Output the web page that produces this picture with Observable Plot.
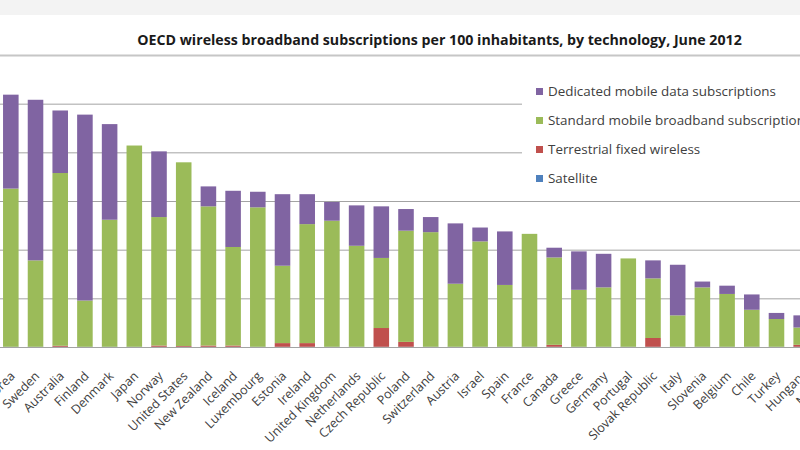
<!DOCTYPE html>
<html>
<head>
<meta charset="utf-8">
<script src="https://cdn.jsdelivr.net/npm/d3@7"></script>
<script src="https://cdn.jsdelivr.net/npm/@observablehq/plot@0.6"></script>
<style>
  html, body { margin: 0; padding: 0; }
  body { width: 800px; height: 450px; overflow: hidden; position: relative; background: #ffffff; font-family: "Open Sans", sans-serif; }
  #band { position: absolute; left: 0; top: 0; width: 800px; height: 15px; background: #f3f3f3; }
  #chart { position: absolute; left: -40px; top: 0; width: 900px; height: 450px; }
  #chart svg { max-width: none !important; }
  #title { position: absolute; left: 0; top: 30px; width: 879px; text-align: center; font-weight: bold; font-size: 14.2px; color: #1a1a1a; white-space: nowrap; }
  #legend { position: absolute; left: 522px; top: 68px; width: 300px; height: 124px; background: #ffffff; }
  .item { position: absolute; left: 14px; height: 18px; font-size: 13.4px; color: #404040; white-space: nowrap; line-height: 18px; }
  .sw { position: absolute; left: 0; top: 6px; width: 7px; height: 7px; }
  .lbl { position: absolute; left: 12px; top: 0; }
</style>
</head>
<body>
<div id="band"></div>
<div id="chart"></div>
<div id="title"></div>
<div id="legend"></div>
<script>
const titleText = "OECD wireless broadband subscriptions per 100 inhabitants, by technology, June 2012";

const countries = ["Korea","Sweden","Australia","Finland","Denmark","Japan","Norway","United States","New Zealand","Iceland","Luxembourg","Estonia","Ireland","United Kingdom","Netherlands","Czech Republic","Poland","Switzerland","Austria","Israel","Spain","France","Canada","Greece","Germany","Portugal","Slovak Republic","Italy","Slovenia","Belgium","Chile","Turkey","Hungary","Mexico"];

const dedicated   = [38.6, 66.0, 25.7, 76.4, 39.3, 0.0, 27.0, 0.0, 8.2, 23.1, 6.4, 29.4, 12.3, 7.7, 16.6, 21.2, 8.9, 6.2, 24.8, 5.7, 22.0, 0.0, 4.0, 15.8, 13.8, 0.0, 7.4, 20.8, 2.4, 3.4, 6.3, 2.5, 5.0, 1.5];
const standard    = [65.0, 35.5, 71.0, 19.0, 52.2, 82.7, 52.8, 75.5, 57.2, 40.5, 57.3, 31.8, 48.9, 51.8, 41.5, 28.8, 45.7, 47.1, 25.9, 43.3, 25.4, 46.4, 35.9, 23.4, 24.4, 36.3, 24.5, 12.9, 24.4, 21.7, 15.2, 11.4, 7.1, 8.5];
const terrestrial = [0.0, 0.0, 0.4, 0.0, 0.0, 0.0, 0.5, 0.3, 0.5, 0.5, 0.0, 1.5, 1.5, 0.0, 0.0, 7.7, 2.0, 0.0, 0.0, 0.0, 0.0, 0.0, 0.8, 0.0, 0.0, 0.0, 3.6, 0.0, 0.0, 0.0, 0.0, 0.0, 0.8, 0.3];
const satellite   = [0.1, 0.1, 0.1, 0.1, 0.1, 0.1, 0.1, 0.1, 0.1, 0.1, 0.1, 0.1, 0.1, 0.1, 0.1, 0.1, 0.1, 0.1, 0.1, 0.1, 0.1, 0.1, 0.1, 0.1, 0.1, 0.1, 0.1, 0.1, 0.1, 0.1, 0.1, 0.1, 0.1, 0.1];

const series = ["Dedicated mobile data subscriptions", "Standard mobile broadband subscriptions", "Terrestrial fixed wireless", "Satellite"];
const seriesColors = ["#8064a2", "#9bbb59", "#c0504d", "#4f81bd"];
const gridValues = [20, 40, 60, 80, 100];
const yMax = 120;

// stack order bottom -> top
const stackOrder = [
  [series[3], satellite],
  [series[2], terrestrial],
  [series[1], standard],
  [series[0], dedicated]
];
const rows = [];
countries.forEach((c, i) => {
  for (const [name, arr] of stackOrder) rows.push({country: c, tech: name, value: arr[i]});
});

document.getElementById("title").textContent = titleText;

const chart = Plot.plot({
  width: 900,
  height: 450,
  marginTop: 55,
  marginBottom: 103,
  marginLeft: 0,
  marginRight: 0,
  style: {background: "transparent", fontFamily: "Open Sans, sans-serif", maxWidth: "none"},
  x: {type: "band", domain: countries, range: [33.9, 882.8], padding: 0.37, round: false, axis: null},
  y: {domain: [0, yMax], axis: null},
  color: {domain: series, range: seriesColors},
  marks: [
    Plot.ruleY(gridValues, {stroke: "#a3a3a3", strokeWidth: 1}),
    Plot.ruleY([yMax], {stroke: "#c6c6c6", strokeWidth: 2}),
    Plot.barY(rows, {x: "country", y: "value", fill: "tech"}),
    Plot.ruleY([0], {stroke: "#a3a3a3", strokeWidth: 1}),
    Plot.text(countries, {
      x: d => d,
      frameAnchor: "bottom",
      lineAnchor: "top",
      dx: -2, dy: 23,
      rotate: -45,
      textAnchor: "end",
      fontSize: 12.5,
      fill: "#404040"
    })
  ]
});
document.getElementById("chart").appendChild(chart);

const legend = document.getElementById("legend");
series.forEach((s, i) => {
  const item = document.createElement("div");
  item.className = "item";
  item.style.top = (14 + i * 29) + "px";
  const sw = document.createElement("div");
  sw.className = "sw";
  sw.style.background = seriesColors[i];
  const lbl = document.createElement("div");
  lbl.className = "lbl";
  lbl.textContent = s;
  item.appendChild(sw);
  item.appendChild(lbl);
  legend.appendChild(item);
});
</script>
</body>
</html>
